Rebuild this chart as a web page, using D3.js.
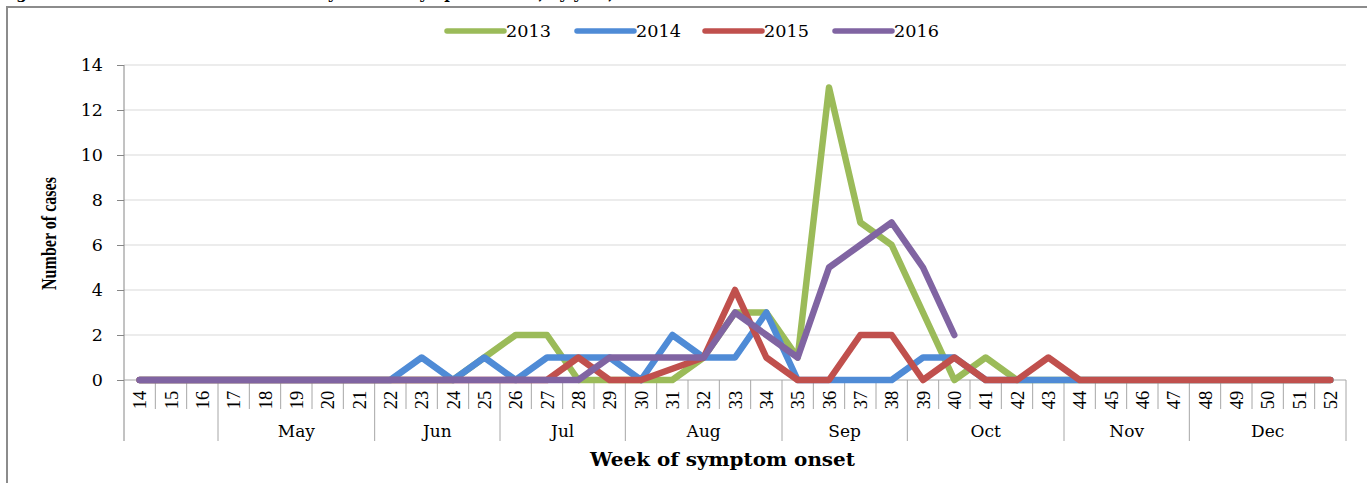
<!DOCTYPE html>
<html>
<head>
<meta charset="utf-8">
<script src="https://cdn.jsdelivr.net/npm/d3@7"></script>
<style>
  body { margin: 0; background: #fff; }
  svg { display: block; }
</style>
</head>
<body>
<script>
// Chart size
var svgWidth = 1367;
var svgHeight = 483;

// Week numbers on the x axis
var weeks = [14, 15, 16, 17, 18, 19, 20, 21, 22, 23, 24, 25, 26, 27, 28, 29, 30, 31, 32,
  33, 34, 35, 36, 37, 38, 39, 40, 41, 42, 43, 44, 45, 46, 47, 48, 49, 50, 51, 52];

// Month groups under the weeks (first and last week of each)
var months = ["", "May", "Jun", "Jul", "Aug", "Sep", "Oct", "Nov", "Dec"];
var monthStart = [14, 17, 22, 26, 30, 35, 39, 44, 48];
var monthEnd = [16, 21, 25, 29, 34, 38, 43, 47, 52];

// Cases per week, one array per year
var cases2013 = [0, 0, 0, 0, 0, 0, 0, 0, 0, 0, 0, 1, 2, 2, 0, 0, 0, 0, 1,
  3, 3, 1, 13, 7, 6, 3, 0, 1, 0, 0, 0, 0, 0, 0, 0, 0, 0, 0, 0];
var cases2014 = [0, 0, 0, 0, 0, 0, 0, 0, 0, 1, 0, 1, 0, 1, 1, 1, 0, 2, 1,
  1, 3, 0, 0, 0, 0, 1, 1, 0, 0, 0, 0, 0, 0, 0, 0, 0, 0, 0, 0];
var cases2015 = [0, 0, 0, 0, 0, 0, 0, 0, 0, 0, 0, 0, 0, 0, 1, 0, 0, 0.5, 1,
  4, 1, 0, 0, 2, 2, 0, 1, 0, 0, 1, 0, 0, 0, 0, 0, 0, 0, 0, 0];
var cases2016 = [0, 0, 0, 0, 0, 0, 0, 0, 0, 0, 0, 0, 0, 0, 0, 1, 1, 1, 1,
  3, 2, 1, 5, 6, 7, 5, 2, null, null, null, null, null, null, null, null, null, null, null, null];

var years = ["2013", "2014", "2015", "2016"];
var yTicks = [0, 2, 4, 6, 8, 10, 12, 14];

var series = [
  { name: years[0], values: cases2013, color: "#9bbb59" },
  { name: years[1], values: cases2014, color: "#4f8bd6" },
  { name: years[2], values: cases2015, color: "#c0504d" },
  { name: years[3], values: cases2016, color: "#8064a2" }
];

var plotLeft = 124, plotRight = 1346, plotTop = 65, plotBottom = 380;

var svg = d3.select("body")
  .append("svg")
  .attr("width", svgWidth)
  .attr("height", svgHeight);

// Caption above the frame (only its lower edge shows)
svg.append("text")
  .attr("x", 0)
  .attr("y", -1)
  .style("font-family", "DejaVu Serif")
  .style("font-weight", "bold")
  .style("font-size", "15px")
  .text("Figure 2: Number of confirmed cases by week of symptom onset, by year, 2013\u20132016");

// Frame
svg.append("rect")
  .attr("x", 7).attr("y", 7)
  .attr("width", 1420).attr("height", 520)
  .attr("fill", "none")
  .attr("stroke", "#8c8c8c")
  .attr("stroke-width", 2);

var xScale = d3.scaleBand()
  .domain(weeks)
  .range([plotLeft, plotRight])
  .padding(0);

var yScale = d3.scaleLinear()
  .domain([0, 14])
  .range([plotBottom, plotTop]);

// Gridlines
svg.append("g")
  .selectAll("line")
  .data(yTicks.filter(d => d > 0))
  .enter()
  .append("line")
  .attr("x1", plotLeft).attr("x2", plotRight)
  .attr("y1", d => yScale(d)).attr("y2", d => yScale(d))
  .attr("stroke", "#d9d9d9")
  .attr("stroke-width", 1);

// Left axis
var leftAxis = d3.axisLeft(yScale).tickValues(yTicks).tickSize(7).tickPadding(14);
var yAxisG = svg.append("g")
  .attr("transform", `translate(${plotLeft},0)`)
  .call(leftAxis);
yAxisG.select(".domain").remove();
yAxisG.selectAll(".tick line").attr("stroke", "#868686");
yAxisG.selectAll("text")
  .style("font-family", "DejaVu Serif")
  .style("font-size", "17.5px")
  .attr("fill", "#000");
svg.append("line")
  .attr("x1", plotLeft).attr("x2", plotLeft)
  .attr("y1", plotTop).attr("y2", 441)
  .attr("stroke", "#868686");

// Bottom line at zero
svg.append("line")
  .attr("x1", plotLeft).attr("x2", plotRight)
  .attr("y1", plotBottom).attr("y2", plotBottom)
  .attr("stroke", "#a6a6a6");

// Week labels and separators
var bw = xScale.bandwidth();
var weekG = svg.append("g");
weekG.selectAll("line")
  .data(weeks)
  .enter()
  .append("line")
  .attr("x1", d => xScale(d) + bw).attr("x2", d => xScale(d) + bw)
  .attr("y1", plotBottom)
  .attr("y2", d => monthEnd.indexOf(d) >= 0 ? 441 : 409)
  .attr("stroke", "#a6a6a6");
weekG.selectAll("text")
  .data(weeks)
  .enter()
  .append("text")
  .attr("transform", d => `translate(${xScale(d) + bw / 2 + 6.5},400) rotate(-90)`)
  .attr("text-anchor", "middle")
  .style("font-family", "Liberation Serif")
  .style("font-size", "18.5px")
  .text(d => d);

// Month labels
svg.append("g")
  .selectAll("text")
  .data(months)
  .enter()
  .append("text")
  .attr("x", (d, i) => (xScale(monthStart[i]) + xScale(monthEnd[i]) + bw) / 2)
  .attr("y", 437)
  .attr("text-anchor", "middle")
  .style("font-family", "DejaVu Serif")
  .style("font-size", "17px")
  .text(d => d);

// Lines
var line = d3.line()
  .defined(d => d !== null)
  .x((d, i) => xScale(weeks[i]) + bw / 2)
  .y(d => yScale(d));

svg.append("g")
  .selectAll("path")
  .data(series)
  .enter()
  .append("path")
  .attr("d", d => line(d.values))
  .attr("fill", "none")
  .attr("stroke", d => d.color)
  .attr("stroke-width", 6.5)
  .attr("stroke-linejoin", "round")
  .attr("stroke-linecap", "round");

// Legend
var legendX = [447, 577, 705, 835];
var legend = svg.append("g")
  .selectAll("g")
  .data(series)
  .enter()
  .append("g")
  .attr("transform", (d, i) => `translate(${legendX[i]},31)`);
legend.append("line")
  .attr("x1", 0).attr("x2", 57)
  .attr("stroke", d => d.color)
  .attr("stroke-width", 5.5)
  .attr("stroke-linecap", "round");
legend.append("text")
  .attr("x", 59)
  .attr("y", 6)
  .style("font-family", "DejaVu Serif")
  .style("font-size", "17px")
  .attr("textLength", 45)
  .attr("lengthAdjust", "spacingAndGlyphs")
  .text(d => d.name);

// Axis titles
svg.append("text")
  .attr("transform", `translate(56,${(177 + 290) / 2}) rotate(-90)`)
  .attr("text-anchor", "middle")
  .style("font-family", "Liberation Serif")
  .style("font-weight", "bold")
  .style("font-size", "20px")
  .attr("textLength", 113)
  .attr("lengthAdjust", "spacingAndGlyphs")
  .text("Number of cases");

svg.append("text")
  .attr("x", 590)
  .attr("y", 466)
  .style("font-family", "DejaVu Serif")
  .style("font-weight", "bold")
  .style("font-size", "18px")
  .attr("textLength", 265)
  .attr("lengthAdjust", "spacingAndGlyphs")
  .text("Week of symptom onset");
</script>
</body>
</html>
